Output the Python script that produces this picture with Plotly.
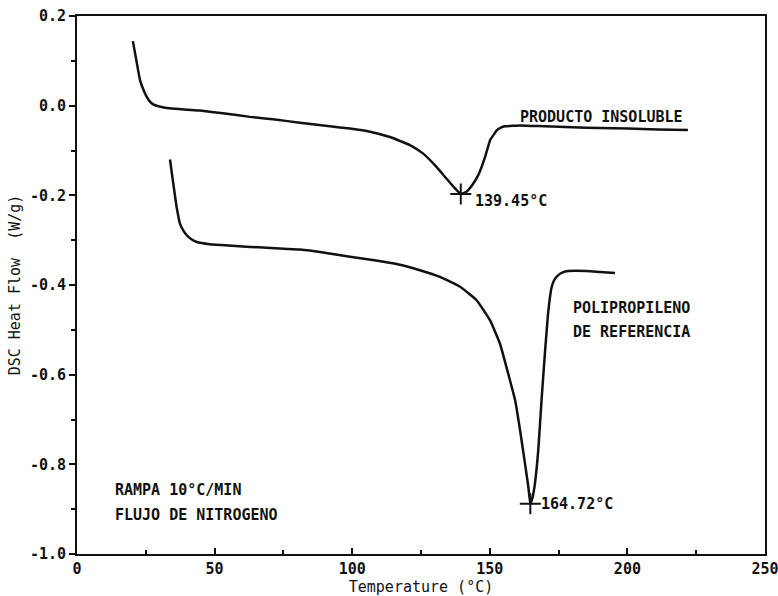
import plotly.graph_objects as go

# DSC thermograms: insoluble product vs reference polypropylene
temp_insoluble = [20.3, 21.6, 22.9, 24.1, 25.3, 26.5, 27.7, 30.0, 32.6, 36.0, 39.9, 44.7,
                  53.0, 62.9, 72.0, 81.0, 91.9, 99.2, 106.5, 113.7, 121.0, 125.8, 130.7,
                  134.3, 137.0, 139.45, 141.5, 143.5, 145.8, 148.3, 150.1, 151.5, 152.5,
                  154.0, 155.5, 158.0, 161.0, 170.0, 180.0, 190.0, 200.0, 211.0, 222.0]
flow_insoluble = [0.144, 0.100, 0.057, 0.036, 0.020, 0.009, 0.003, -0.002, -0.005, -0.007, -0.009, -0.011,
                  -0.017, -0.025, -0.031, -0.038, -0.046, -0.051, -0.058, -0.070, -0.088, -0.107, -0.137,
                  -0.163, -0.182, -0.197, -0.192, -0.178, -0.155, -0.114, -0.077, -0.064, -0.055,
                  -0.049, -0.046, -0.045, -0.044, -0.046, -0.048, -0.050, -0.051, -0.053, -0.054]

temp_reference = [33.8, 34.4, 35.0, 35.6, 36.2, 36.8, 37.4, 38.6, 39.9, 41.6, 43.5, 48.3, 55.0,
                  62.9, 72.0, 81.0, 90.0, 99.2, 108.0, 117.4, 124.6, 131.9, 139.2, 145.2, 150.1,
                  153.7, 156.7, 159.2, 161.0, 162.8, 164.0, 164.72, 165.6, 166.4, 167.6, 168.8,
                  170.1, 171.3, 172.5, 173.6, 174.9, 176.5, 178.5, 185.2, 190.0, 195.5]
flow_reference = [-0.120, -0.148, -0.174, -0.201, -0.226, -0.246, -0.263, -0.278, -0.289, -0.298, -0.304,
                  -0.309, -0.312, -0.315, -0.318, -0.321, -0.328, -0.337, -0.345, -0.355, -0.367, -0.382,
                  -0.404, -0.434, -0.479, -0.531, -0.598, -0.657, -0.724, -0.799, -0.850, -0.888, -0.872,
                  -0.843, -0.769, -0.657, -0.546, -0.456, -0.404, -0.387, -0.378, -0.372, -0.369, -0.369,
                  -0.371, -0.373]

peak_temps = [139.45, 164.72]
peak_flows = [-0.197, -0.888]
peak_labels = ["139.45°C", "164.72°C"]

y_ticks = [0.2, 0.0, -0.2, -0.4, -0.6, -0.8, -1.0]
y_ticktext = ["0.2", "0.0", "-0.2", "-0.4", "-0.6", "-0.8", "-1.0"]
x_ticks = [0, 50, 100, 150, 200, 250]

FONT = "DejaVu Sans Mono"
INK = "#111111"

fig = go.Figure()
for tx, fy in [(temp_insoluble, flow_insoluble), (temp_reference, flow_reference)]:
    fig.add_trace(go.Scatter(x=tx, y=fy, mode="lines",
                             line=dict(color=INK, width=2.5, shape="spline", smoothing=0.4),
                             showlegend=False, hoverinfo="skip"))
fig.add_trace(go.Scatter(x=peak_temps, y=peak_flows, mode="markers",
                         marker=dict(symbol="cross-thin", size=15, line=dict(color=INK, width=2)),
                         showlegend=False, hoverinfo="skip"))

label_shift = [(12, -7), (9, 0)]
for (t, f, lab), (dx, dy) in zip(zip(peak_temps, peak_flows, peak_labels), label_shift):
    fig.add_annotation(x=t, y=f, text="<b>" + lab + "</b>", showarrow=False, xanchor="left",
                       yanchor="middle", xshift=dx, yshift=dy,
                       font=dict(family=FONT, size=15, color=INK))

notes = [
    (160.2, -0.025, "PRODUCTO INSOLUBLE"),
    (179.5, -0.451, "POLIPROPILENO"),
    (179.5, -0.504, "DE REFERENCIA"),
    (13.1, -0.857, "RAMPA 10°C/MIN"),
    (13.1, -0.913, "FLUJO DE NITROGENO"),
]
for x, y, txt in notes:
    fig.add_annotation(x=x, y=y, text="<b>" + txt + "</b>", showarrow=False, xanchor="left",
                       yanchor="middle", font=dict(family=FONT, size=15, color=INK))

fig.update_layout(
    width=778, height=596,
    margin=dict(l=77, r=13, t=16, b=42),
    paper_bgcolor="white", plot_bgcolor="white",
    font=dict(family=FONT, color=INK),
    xaxis=dict(range=[0, 250], tickvals=x_ticks, ticktext=[f"<b>{v}</b>" for v in x_ticks],
               ticks="inside", ticklen=6, tickwidth=2,
               tickcolor=INK, showline=True, linewidth=2, linecolor=INK, mirror=True,
               showgrid=False, zeroline=False, tickfont=dict(size=15), automargin=False,
               ticklabeloverflow="allow",
               minor=dict(dtick=25, tick0=0, ticks="inside", ticklen=4, tickwidth=1.5, tickcolor=INK),
               title=dict(text="Temperature (°C)", font=dict(size=15), standoff=4)),
    yaxis=dict(range=[-1.0, 0.2], tickvals=y_ticks, ticktext=[f"<b>{t}</b>" for t in y_ticktext],
               ticks="outside", ticklen=6, tickwidth=2, tickcolor=INK, showline=True, linewidth=2,
               linecolor=INK, mirror=True, showgrid=False, zeroline=False, tickfont=dict(size=15),
               automargin=False, ticklabeloverflow="allow",
               minor=dict(dtick=0.1, tick0=0, ticks="outside", ticklen=4, tickwidth=1.5, tickcolor=INK),
               title=dict(text="DSC Heat Flow  (W/g)", font=dict(size=15), standoff=6)),
)

fig.write_html("out.html")
